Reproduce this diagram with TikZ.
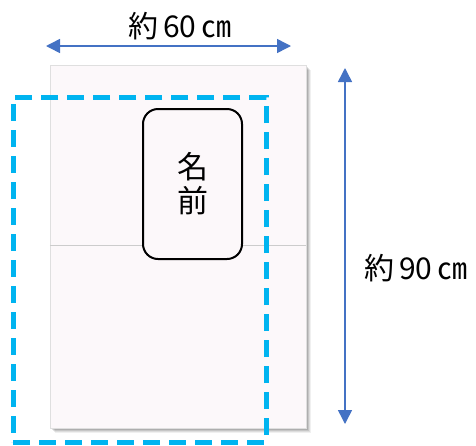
\documentclass[tikz,border=0pt]{standalone}
\usepackage{fontspec}
\setmainfont{Noto Sans CJK JP}
\usetikzlibrary{arrows.meta}
\definecolor{dimblue}{RGB}{68,114,196}
\definecolor{cutcyan}{RGB}{0,180,240}
\definecolor{boardfill}{RGB}{252,248,250}

\begin{document}
\begin{tikzpicture}[x=1pt,y=-1pt,
    dim/.style={draw=dimblue,line width=1.5pt,
      {Triangle[length=14pt,width=14pt]}-{Triangle[length=14pt,width=14pt]}},
    dimtext/.style={font=\fontsize{30}{33}\selectfont,inner sep=0pt},
    cutline/.style={draw=cutcyan,line width=5pt,dash pattern=on 17pt off 9pt,
      minimum width=253pt,minimum height=345pt,inner sep=0pt},
    boardbox/.style={draw=gray!25,fill=boardfill,minimum width=256pt,
      minimum height=363pt,inner sep=0pt}]
    \useasboundingbox (0,0) rectangle (476,445);
    % board with its soft shadow
    \foreach \d/\o in {5/0.06,4/0.08,3/0.1,2/0.12,1/0.14}
        \fill[black,opacity=\o] (50+\d,65+\d) rectangle (306+\d,428+\d);
    \node[boardbox] (board) at (178,246.5) {};
    \draw[gray!40] ([yshift=1.5pt]board.west) -- ([yshift=1.5pt]board.east);
    % name plate
    \node[draw,line width=2pt,rounded corners=15pt,fill=boardfill,
        minimum width=99pt,minimum height=150pt,align=center,
        font=\fontsize{31}{34}\selectfont] (name) at (192.5,184) {名\\前};
    % cut line
    \node[cutline] (cut) at (139.5,269.5) {};
    % sizes
    \coordinate (wl) at (46,46);
    \coordinate (wr) at (291,46);
    \draw[dim] (wl) -- (wr);
    \node[dimtext] (wtext) at (180,26) {約\hspace{5pt}60\hspace{5pt}㎝};
    \coordinate (ht) at (345,68);
    \coordinate (hb) at (345,424);
    \draw[dim] (ht) -- (hb);
    \node[dimtext] (htext) at (416,268) {約\hspace{5pt}90\hspace{5pt}㎝};
\end{tikzpicture}
\end{document}
